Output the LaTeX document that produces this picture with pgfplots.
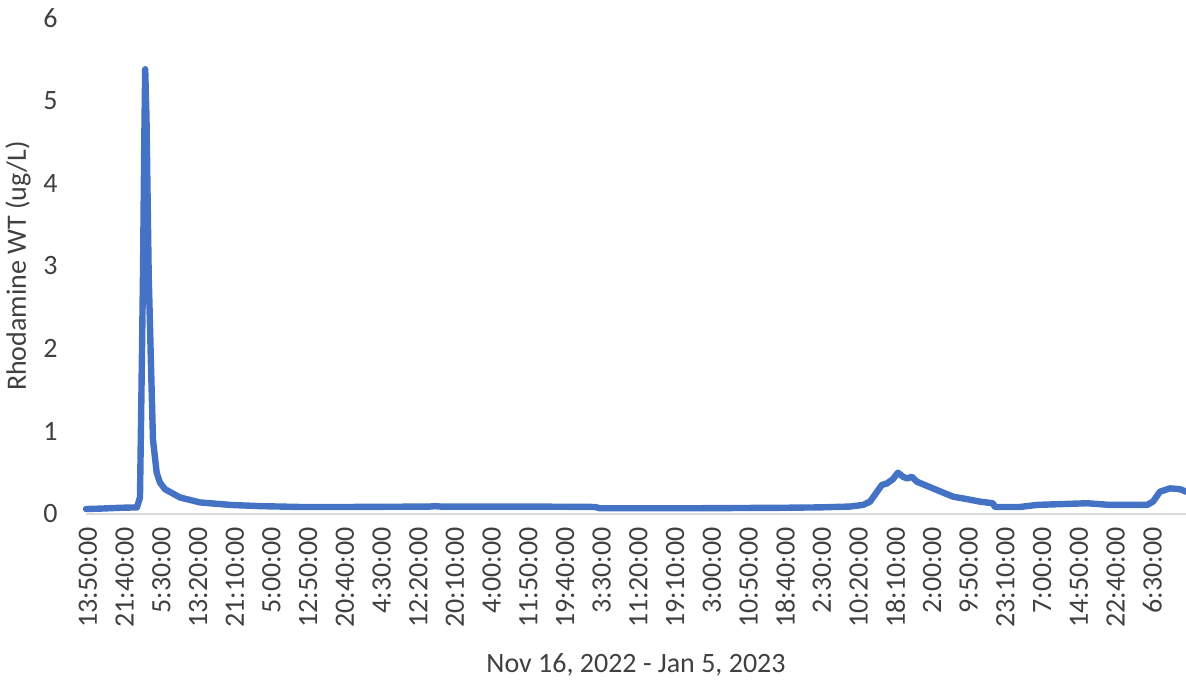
\documentclass[border=0pt]{standalone}
\usepackage{pgfplots}
\pgfplotsset{compat=1.18}
\usepackage{fontspec}
\setmainfont{Carlito}
\definecolor{lineblue}{HTML}{4472C4}
\definecolor{txt}{HTML}{404040}
\definecolor{axgray}{HTML}{D9D9D9}
\begin{document}
\begin{tikzpicture}
\begin{axis}[
  scale only axis, width=550pt, height=248pt,
  xmin=-0.054, xmax=29.92, ymin=0, ymax=6,
  axis x line*=bottom, axis y line*=left,
  x axis line style={draw=axgray, line width=0.8pt, -},
  y axis line style={draw=none},
  major tick length=0pt,
  xtick={0,...,29},
  xticklabels={13:50:00,21:40:00,5:30:00,13:20:00,21:10:00,5:00:00,12:50:00,20:40:00,4:30:00,12:20:00,20:10:00,4:00:00,11:50:00,19:40:00,3:30:00,11:20:00,19:10:00,3:00:00,10:50:00,18:40:00,2:30:00,10:20:00,18:10:00,2:00:00,9:50:00,23:10:00,7:00:00,14:50:00,22:40:00,6:30:00},
  ytick={0,1,2,3,4,5,6},
  /pgf/number format/assume math mode=true,
  tick label style={font=\fontsize{14}{16}\selectfont, text=txt},
  xticklabel style={yshift=-6.5pt, rotate=90, anchor=east, inner sep=0pt},
  yticklabel style={anchor=east, inner sep=0pt, xshift=-14pt},
  xlabel={Nov 16, 2022 - Jan 5, 2023},
  ylabel={Rhodamine WT (ug/L)},
  every axis x label/.style={at={(rel axis cs:0.5,0)}, yshift=-75.5pt, anchor=center, font=\fontsize{14}{16}\selectfont, text=txt},
  every axis y label/.style={at={(rel axis cs:0,0.5)}, xshift=-34pt, rotate=90, anchor=center, font=\fontsize{14}{16}\selectfont, text=txt},
  clip=false,
]
\coordinate (sw) at (rel axis cs:0,0);
\addplot[lineblue, line width=3.2pt, line join=round, line cap=round] table {
x y
-0.054 0.06
0.327 0.065
0.872 0.075
1.335 0.08
1.417 0.2
1.458 1.5
1.499 2.9
1.534 4.5
1.559 5.38
1.594 4.8
1.654 2.9
1.717 1.8
1.771 0.9
1.872 0.5
1.962 0.38
2.098 0.3
2.507 0.2
3.052 0.14
3.869 0.11
4.687 0.095
5.777 0.085
7.14 0.085
9.32 0.09
9.46 0.095
9.60 0.09
10.68 0.09
12.04 0.09
13.81 0.085
13.95 0.07
16.68 0.07
18.86 0.075
19.95 0.08
20.76 0.09
21.12 0.11
21.31 0.15
21.63 0.35
21.77 0.37
21.93 0.42
22.07 0.50
22.21 0.45
22.32 0.43
22.45 0.45
22.59 0.39
23.13 0.29
23.57 0.21
23.95 0.18
24.30 0.15
24.66 0.13
24.71 0.085
25.40 0.085
25.86 0.11
27.22 0.13
27.85 0.11
28.86 0.11
29.02 0.15
29.21 0.27
29.48 0.31
29.76 0.30
29.92 0.27
};
\end{axis}
\pgfresetboundingbox
\path (sw) ++(-43pt,-84.5pt) rectangle ++(593pt,341.5pt);
\end{tikzpicture}
\end{document}
